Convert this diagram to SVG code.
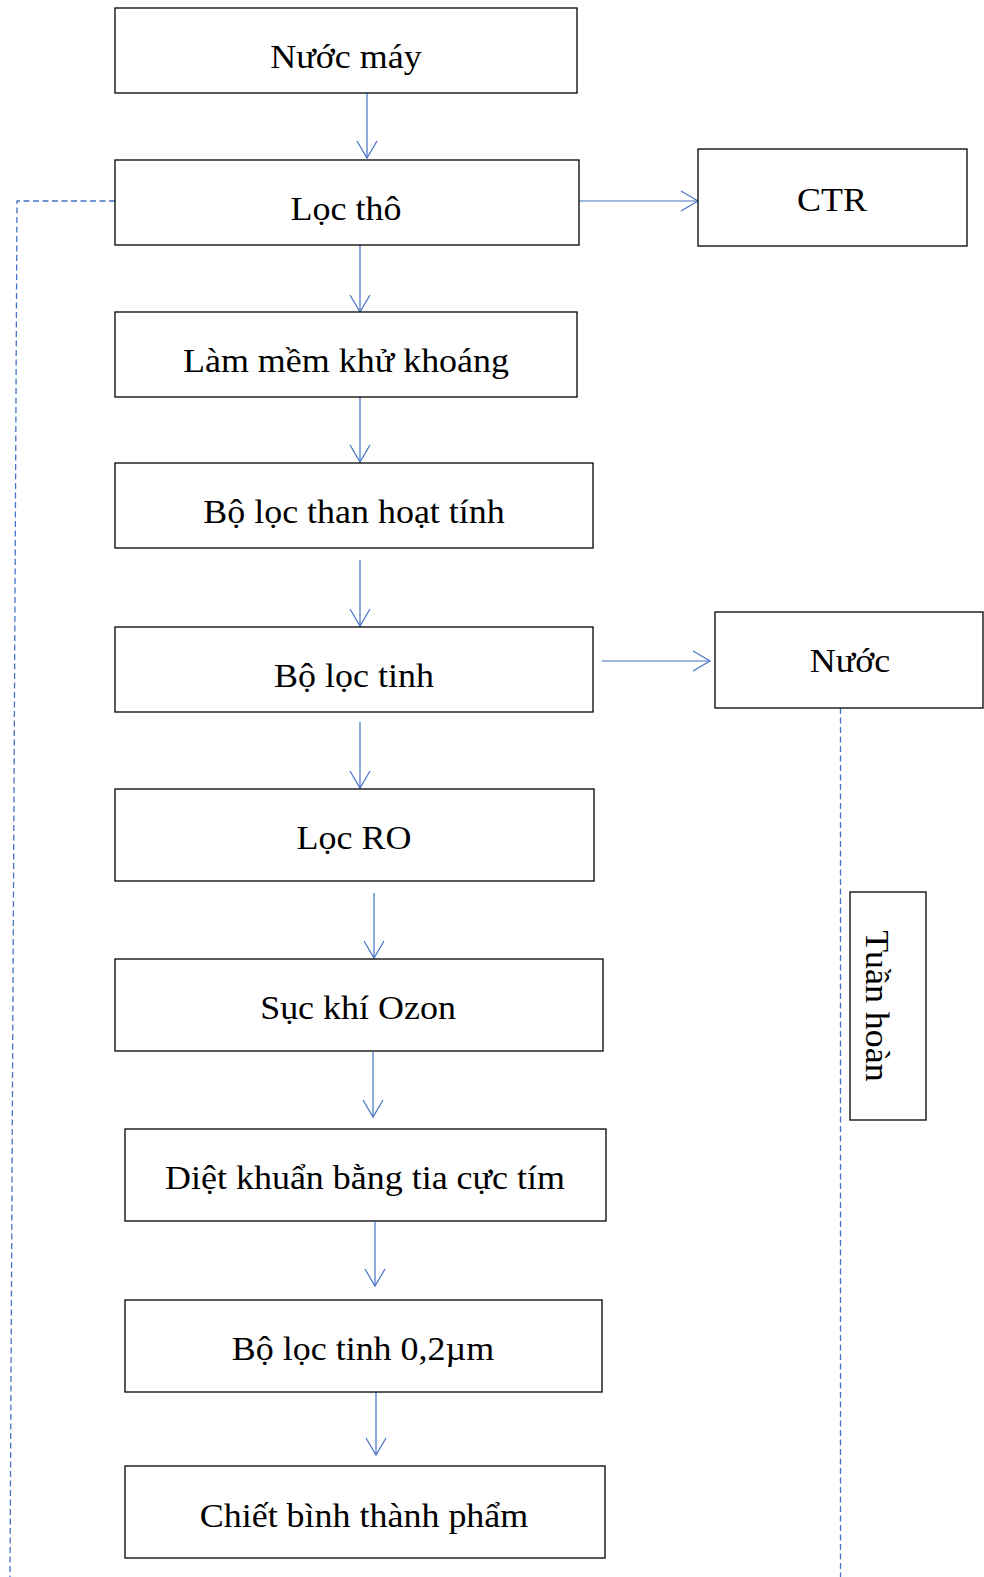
<svg xmlns="http://www.w3.org/2000/svg" width="984" height="1577" viewBox="0 0 984 1577">
<style>
.box{fill:#fff;stroke:#000;stroke-width:1.3}
.t{font-family:"Liberation Serif","Times New Roman",serif;font-size:33px;fill:#000;text-anchor:middle}
.c{fill:none;stroke:#4472C4;stroke-width:1.2}
.d{fill:none;stroke:#4472C4;stroke-width:1.3;stroke-dasharray:6 3.5}
</style>
<defs>
<marker id="a" markerUnits="userSpaceOnUse" markerWidth="24" markerHeight="24" viewBox="-20 -12 24 24" refX="0" refY="0" orient="auto">
<path d="M-17,-10 L0,0 L-17,10" fill="none" stroke="#4472C4" stroke-width="1.2"/>
</marker>
</defs>
<g id="connectors">
<line class="c" x1="367" y1="93" x2="367" y2="158" marker-end="url(#a)"/>
<line class="c" x1="579" y1="201" x2="698" y2="201" marker-end="url(#a)"/>
<line class="c" x1="360" y1="245" x2="360" y2="312" marker-end="url(#a)"/>
<line class="c" x1="360" y1="397" x2="360" y2="462" marker-end="url(#a)"/>
<line class="c" x1="360" y1="560" x2="360" y2="626" marker-end="url(#a)"/>
<line class="c" x1="602" y1="661" x2="710" y2="661" marker-end="url(#a)"/>
<line class="c" x1="360" y1="722" x2="360" y2="788" marker-end="url(#a)"/>
<line class="c" x1="374" y1="893" x2="374" y2="958" marker-end="url(#a)"/>
<line class="c" x1="373" y1="1052" x2="373" y2="1117" marker-end="url(#a)"/>
<line class="c" x1="375" y1="1222" x2="375" y2="1286" marker-end="url(#a)"/>
<line class="c" x1="376" y1="1391" x2="376" y2="1455" marker-end="url(#a)"/>
<polyline class="d" points="115,201 17,201 10,1577"/>
<line class="d" x1="840.5" y1="708" x2="840.5" y2="1577"/>
</g>
<g id="n1"><rect class="box" x="115" y="8" width="462" height="85"/><text class="t" transform="translate(346,68) scale(1.09,1)">Nước máy</text></g>
<g id="n2"><rect class="box" x="115" y="160" width="464" height="85"/><text class="t" transform="translate(346,220) scale(1.09,1)">Lọc thô</text></g>
<g id="ctr"><rect class="box" x="698" y="149" width="269" height="97"/><text class="t" transform="translate(832,211) scale(1.09,1)">CTR</text></g>
<g id="n3"><rect class="box" x="115" y="312" width="462" height="85"/><text class="t" transform="translate(346,372) scale(1.09,1)">Làm mềm khử khoáng</text></g>
<g id="n4"><rect class="box" x="115" y="463" width="478" height="85"/><text class="t" transform="translate(354,523) scale(1.09,1)">Bộ lọc than hoạt tính</text></g>
<g id="n5"><rect class="box" x="115" y="627" width="478" height="85"/><text class="t" transform="translate(354,687) scale(1.09,1)">Bộ lọc tinh</text></g>
<g id="nuoc"><rect class="box" x="715" y="612" width="268" height="96"/><text class="t" transform="translate(850,672) scale(1.09,1)">Nước</text></g>
<g id="n6"><rect class="box" x="115" y="789" width="479" height="92"/><text class="t" transform="translate(354,849) scale(1.09,1)">Lọc RO</text></g>
<g id="n7"><rect class="box" x="115" y="959" width="488" height="92"/><text class="t" transform="translate(358,1019) scale(1.09,1)">Sục khí Ozon</text></g>
<g id="n8"><rect class="box" x="125" y="1129" width="481" height="92"/><text class="t" transform="translate(365,1189) scale(1.09,1)">Diệt khuẩn bằng tia cực tím</text></g>
<g id="n9"><rect class="box" x="125" y="1300" width="477" height="92"/><text class="t" transform="translate(363,1360) scale(1.09,1)">Bộ lọc tinh 0,2µm</text></g>
<g id="n10"><rect class="box" x="125" y="1466" width="480" height="92"/><text class="t" transform="translate(364,1527) scale(1.09,1)">Chiết bình thành phẩm</text></g>
<g id="tuanhoan"><rect class="box" x="850" y="892" width="76" height="228"/><text class="t" transform="translate(866,1006) rotate(90) scale(1.09,1)">Tuần hoàn</text></g>
</svg>
